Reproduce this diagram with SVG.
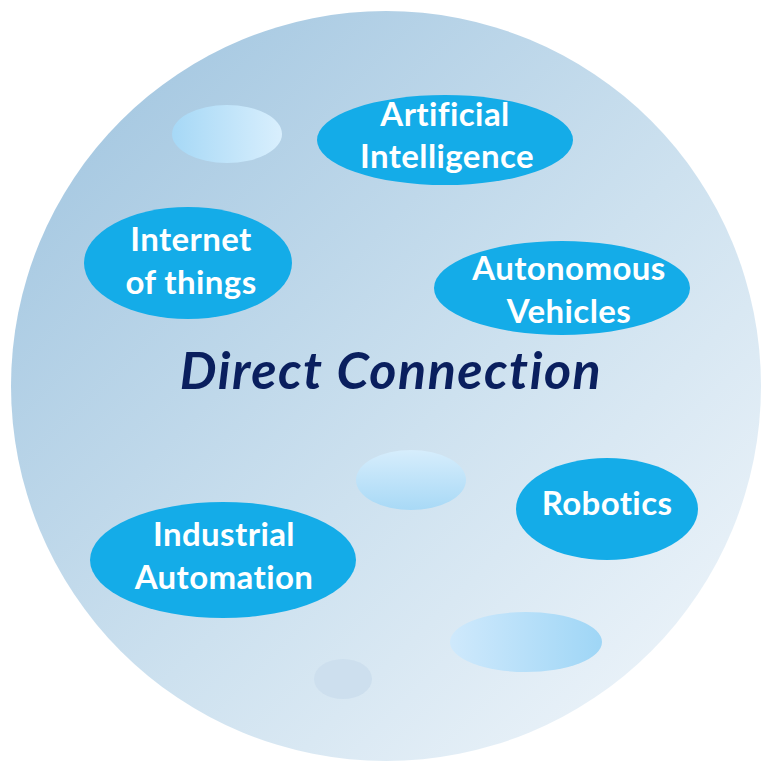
<svg xmlns="http://www.w3.org/2000/svg" width="765" height="766" viewBox="0 0 765 766">
  <defs>
    <linearGradient id="bg" x1="0" y1="0" x2="1" y2="1">
      <stop offset="0" stop-color="#9cc2de"/>
      <stop offset="0.55" stop-color="#cde1ef"/>
      <stop offset="1" stop-color="#f4f8fc"/>
    </linearGradient>
    <linearGradient id="bubH" x1="0" y1="0" x2="1" y2="0">
      <stop offset="0" stop-color="#a6d8f6"/>
      <stop offset="1" stop-color="#d9effd"/>
    </linearGradient>
    <linearGradient id="bubV" x1="0" y1="0" x2="0" y2="1">
      <stop offset="0" stop-color="#d6edfc"/>
      <stop offset="1" stop-color="#a8d9f6"/>
    </linearGradient>
    <linearGradient id="bubR" x1="0" y1="0" x2="1" y2="0">
      <stop offset="0" stop-color="#cfe9fc"/>
      <stop offset="1" stop-color="#9fd6f6"/>
    </linearGradient>
    <style>
      .node { fill: #14ace8; }
      .lbl { font-family: Lato, "Open Sans", "Liberation Sans", sans-serif; font-weight: bold; font-size: 33px; fill: #ffffff; text-anchor: middle; font-variant-ligatures: none; letter-spacing: 0.4px; }
      .title { font-family: Lato, "Open Sans", "Liberation Sans", sans-serif; font-weight: bold; font-style: italic; font-size: 52px; fill: #0a1f5e; text-anchor: middle; font-variant-ligatures: none; letter-spacing: 1.5px; }
    </style>
  </defs>
  <rect width="765" height="766" fill="#ffffff"/>
  <circle id="disc" cx="386" cy="386" r="375" fill="url(#bg)"/>
  <g id="decor">
    <ellipse cx="227" cy="134" rx="55" ry="29" fill="url(#bubH)"/>
    <ellipse cx="411" cy="480" rx="55" ry="30" fill="url(#bubV)"/>
    <ellipse cx="526" cy="642" rx="76" ry="30" fill="url(#bubR)"/>
    <ellipse cx="343" cy="679" rx="29" ry="20" fill="#cddfee"/>
  </g>
  <g id="connectors"></g>
  <g id="ai">
    <ellipse class="node" cx="445" cy="140" rx="128" ry="45"/>
    <text class="lbl" x="445" y="126">Artificial</text>
    <text class="lbl" x="447" y="168">Intelligence</text>
  </g>
  <g id="iot">
    <ellipse class="node" cx="188" cy="263" rx="104" ry="56"/>
    <text class="lbl" x="191" y="251">Internet</text>
    <text class="lbl" x="191" y="294">of things</text>
  </g>
  <g id="av">
    <ellipse class="node" cx="562" cy="288" rx="128" ry="47"/>
    <text class="lbl" x="569" y="280">Autonomous</text>
    <text class="lbl" x="569" y="323">Vehicles</text>
  </g>
  <g id="title">
    <text class="title" x="391" y="389">Direct Connection</text>
  </g>
  <g id="robotics">
    <ellipse class="node" cx="607" cy="509" rx="91" ry="51"/>
    <text class="lbl" x="607" y="515">Robotics</text>
  </g>
  <g id="ia">
    <ellipse class="node" cx="223" cy="560" rx="133" ry="58"/>
    <text class="lbl" x="224" y="546">Industrial</text>
    <text class="lbl" x="224" y="589">Automation</text>
  </g>
</svg>
